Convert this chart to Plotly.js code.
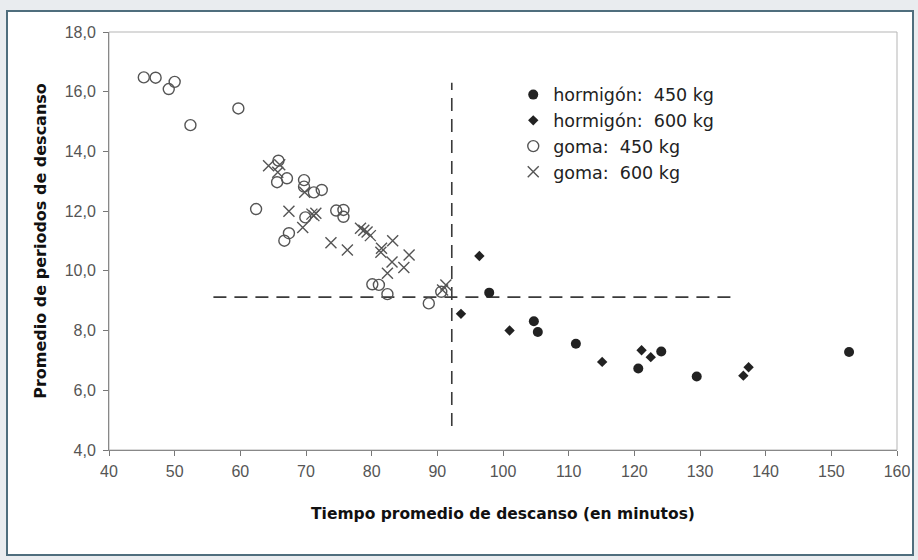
<!DOCTYPE html>
<html>
<head>
<meta charset="utf-8">
<script src="https://cdn.plot.ly/plotly-3.0.1.min.js"></script>
<style>
  html, body { margin: 0; padding: 0; background: #e9ecef; }
  #frame { position: absolute; left: 6px; top: 10px; width: 904px; height: 542px;
           border: 2px solid #4f6e7d; background: #ffffff; }
  #chart { position: absolute; left: 0; top: 0; width: 918px; height: 560px; }
</style>
</head>
<body>
<div id="frame"></div>
<div id="chart"></div>
<script>
// ---- Data ----
const seriesNames = ["hormigón:  450 kg", "hormigón:  600 kg", "goma:  450 kg", "goma:  600 kg"];

const hormigon450X = [97.9, 104.7, 105.3, 111.1, 120.6, 124.1, 129.5, 152.7];
const hormigon450Y = [9.27, 8.31, 7.95, 7.56, 6.73, 7.30, 6.46, 7.28];

const hormigon600X = [93.6, 96.4, 101.0, 115.1, 121.1, 122.5, 136.6, 137.4];
const hormigon600Y = [8.56, 10.50, 8.00, 6.95, 7.34, 7.11, 6.49, 6.77];

const goma450X = [45.3, 47.1, 49.1, 50.0, 52.4, 59.7, 65.8, 65.6, 67.1, 62.4, 69.7, 69.7, 71.2, 72.4,
                  69.9, 67.4, 66.7, 74.6, 75.7, 75.7, 80.1, 81.1, 82.4, 88.7, 90.6];
const goma450Y = [16.48, 16.47, 16.09, 16.33, 14.88, 15.44, 13.69, 12.97, 13.10, 12.07, 13.04, 12.82, 12.63, 12.71,
                  11.79, 11.26, 11.01, 12.02, 12.04, 11.81, 9.55, 9.53, 9.22, 8.91, 9.30];

const goma600X = [64.3, 66.0, 65.7, 69.8, 67.4, 70.9, 71.2, 71.5, 69.5, 73.8, 76.3, 78.3, 78.8, 79.3,
                  79.8, 83.2, 81.5, 81.4, 85.7, 83.1, 84.9, 82.4, 91.3, 90.8];
const goma600Y = [13.52, 13.55, 13.30, 12.63, 12.00, 11.90, 11.85, 11.93, 11.45, 10.94, 10.70, 11.43, 11.36, 11.30,
                  11.18, 11.01, 10.76, 10.62, 10.53, 10.30, 10.11, 9.92, 9.53, 9.36];

// Dashed reference lines (mean values)
const meanLineVX = [92.2, 92.2];
const meanLineVY = [4.8, 16.3];
const meanLineHX = [55.9, 135.0];
const meanLineHY = [9.12, 9.12];

const xTickVals = [40, 50, 60, 70, 80, 90, 100, 110, 120, 130, 140, 150, 160];
const yTickVals = [4, 6, 8, 10, 12, 14, 16, 18];

// ---- Traces ----
const dashStyle = {color: "#3a3a3a", width: 1.6, dash: "13px,8px"};
const traces = [
  {x: meanLineVX, y: meanLineVY, mode: "lines", line: dashStyle, showlegend: false, hoverinfo: "skip"},
  {x: meanLineHX, y: meanLineHY, mode: "lines", line: dashStyle, showlegend: false, hoverinfo: "skip"},
  {x: hormigon450X, y: hormigon450Y, name: seriesNames[0], mode: "markers", type: "scatter",
   marker: {symbol: "circle", size: 10, color: "#222222"}},
  {x: hormigon600X, y: hormigon600Y, name: seriesNames[1], mode: "markers", type: "scatter",
   marker: {symbol: "diamond", size: 8, color: "#222222"}},
  {x: goma450X, y: goma450Y, name: seriesNames[2], mode: "markers", type: "scatter",
   marker: {symbol: "circle-open", size: 11, color: "#555555", line: {width: 1.4, color: "#555555"}}},
  {x: goma600X, y: goma600Y, name: seriesNames[3], mode: "markers", type: "scatter",
   marker: {symbol: "x-thin-open", size: 11, color: "#555555", line: {width: 1.4, color: "#555555"}}}
];

const tickFont = {family: "'Liberation Sans Narrow', 'Arial Narrow', 'Liberation Sans', sans-serif", size: 16, color: "#555555"};

const layout = {
  width: 918, height: 560,
  paper_bgcolor: "rgba(0,0,0,0)",
  plot_bgcolor: "rgba(0,0,0,0)",
  margin: {l: 109, r: 21, t: 32, b: 110},
  separators: ",.",
  showlegend: true,
  legend: {
    x: 0.513, y: 0.893, xanchor: "left", yanchor: "top",
    bgcolor: "rgba(0,0,0,0)", borderwidth: 0,
    font: {family: "'DejaVu Sans', Verdana, sans-serif", size: 17.5, color: "#222222"},
    tracegroupgap: 0
  },
  xaxis: {
    range: [40, 160], tickvals: xTickVals, ticks: "outside", ticklen: 5, tickcolor: "#777777",
    ticklabelstandoff: 2,
    showline: true, linecolor: "#888888", linewidth: 1, mirror: false,
    showgrid: false, zeroline: false, tickfont: tickFont,
    title: {text: "Tiempo promedio de descanso (en minutos)", standoff: 28,
            font: {family: "'DejaVu Sans', Verdana, sans-serif", size: 15.5, color: "#111111", weight: "bold"}}
  },
  yaxis: {
    range: [4, 18], tickvals: yTickVals, tickformat: ".1f", ticks: "outside", ticklen: 5, tickcolor: "#777777",
    ticklabelstandoff: 4,
    showline: true, linecolor: "#888888", linewidth: 1, mirror: false,
    showgrid: false, zeroline: false, tickfont: tickFont,
    title: {text: "Promedio de periodos de descanso", standoff: 14,
            font: {family: "'DejaVu Sans', Verdana, sans-serif", size: 16, color: "#111111", weight: "bold"}}
  },
  shapes: [
    {type: "rect", xref: "paper", yref: "paper", x0: 0, x1: 1, y0: 0, y1: 1,
     line: {color: "#b5b5b5", width: 1}, layer: "below"}
  ]
};

Plotly.newPlot("chart", traces, layout, {staticPlot: true, displayModeBar: false});
</script>
</body>
</html>
